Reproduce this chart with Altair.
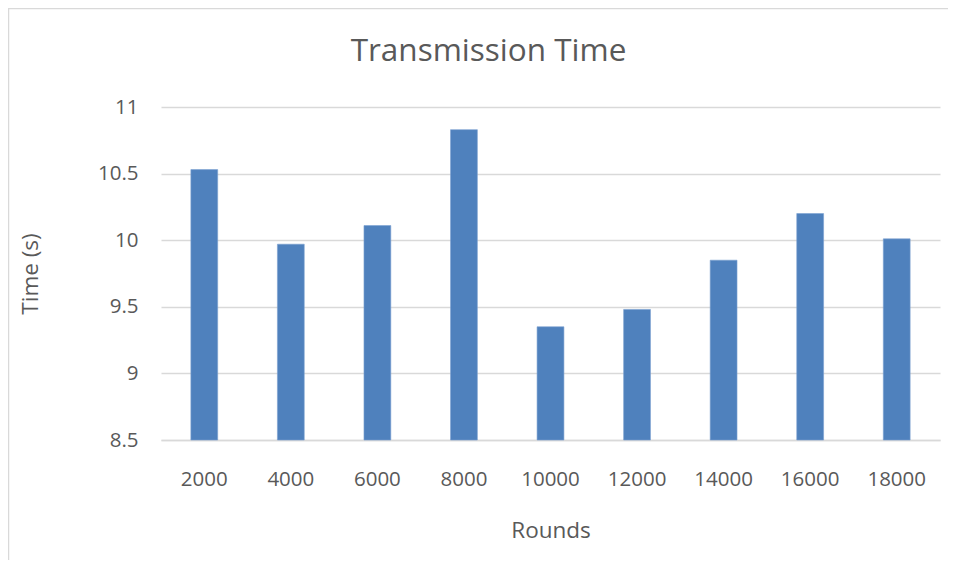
import altair as alt
import pandas as pd

rounds = ["2000", "4000", "6000", "8000", "10000", "12000", "14000", "16000", "18000"]
times = [10.53, 9.97, 10.11, 10.83, 9.35, 9.48, 9.85, 10.20, 10.01]
y_ticks = [8.5, 9, 9.5, 10, 10.5, 11]
y_base = 8.5

df = pd.DataFrame({"Rounds": rounds, "Time": times})

FONT = "Open Sans"
GRAY = "#595959"

bars = alt.Chart(df).mark_bar(color="#4F81BD", stroke="#7A9FD0", strokeWidth=0.6).encode(
    x=alt.X("Rounds:N", sort=rounds,
            scale=alt.Scale(paddingInner=0.69, paddingOuter=0.345),
            axis=alt.Axis(title="Rounds", labelAngle=0, ticks=False, domain=True,
                          domainColor="#D9D9D9", domainWidth=1.3,
                          labelPadding=29, titlePadding=30)),
    y=alt.Y("Time:Q", scale=alt.Scale(domain=[8.5, 11], zero=False, nice=False),
            axis=alt.Axis(title="Time (s)", values=y_ticks, format="~g", ticks=False,
                          domain=False, gridColor="#D9D9D9", gridWidth=1.3,
                          labelPadding=23, titlePadding=55)),
    y2=alt.datum(y_base),
)

border = alt.Chart(pd.DataFrame({"k": [0]})).mark_rect(
    filled=False, stroke="#D9D9D9", strokeWidth=1.5
).encode(
    x=alt.value(-152.5), x2=alt.value(820), y=alt.value(-98.5), y2=alt.value(520)
)

chart = alt.layer(border, bars).properties(
    width=779,
    height=333,
    padding={"left": 153, "top": 99, "right": 8, "bottom": 120},
    autosize=alt.AutoSizeParams(type="none"),
    title=alt.TitleParams("Transmission Time", fontSize=31.5, font=FONT, fontWeight="normal",
                          color=GRAY, anchor="middle", dx=-62, offset=0, dy=85,
                          baseline="alphabetic"),
).configure_axis(
    labelFont=FONT, titleFont=FONT, labelColor=GRAY, titleColor=GRAY,
    labelFontSize=20.5, titleFontSize=22.5, titleFontWeight="normal",
).configure_view(stroke=None)

chart.save("out.html", embed_options={"renderer": "svg", "actions": False})
